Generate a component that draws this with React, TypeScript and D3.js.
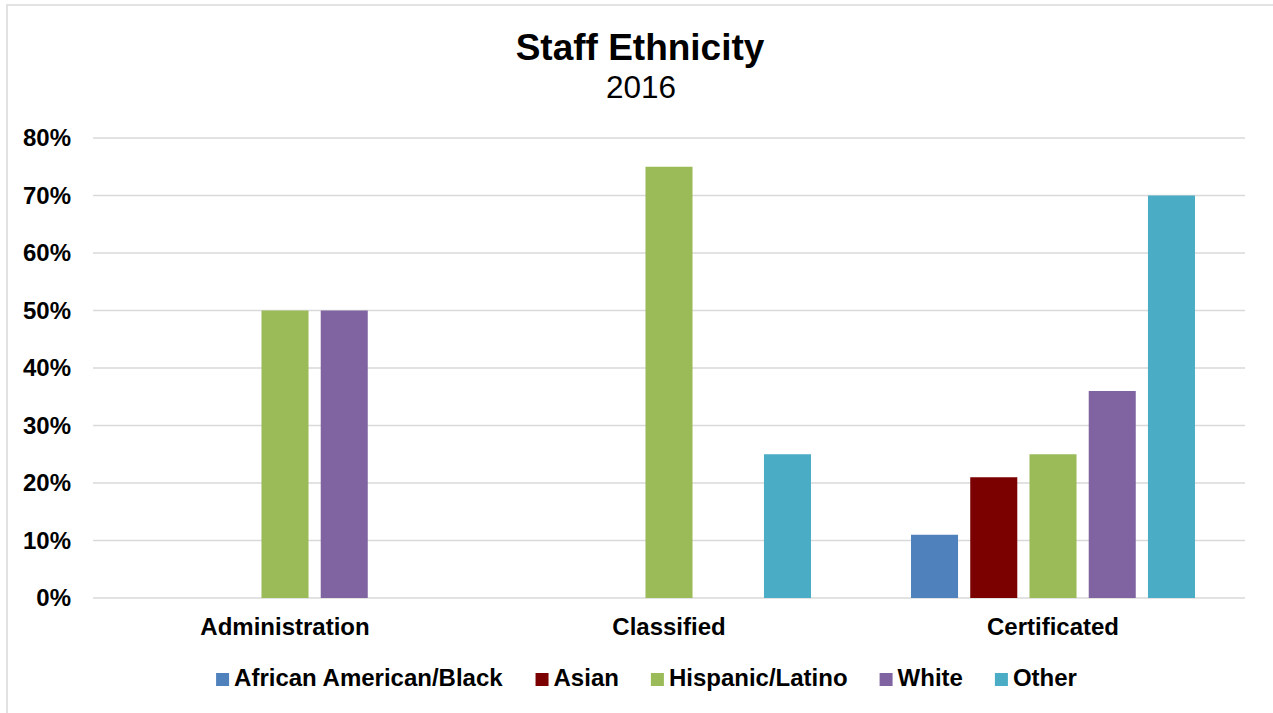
import React from "react";
import * as d3 from "d3";

const categories = ["Administration", "Classified", "Certificated"];
const seriesNames = ["African American/Black", "Asian", "Hispanic/Latino", "White", "Other"];
const seriesColors = ["#4F81BD", "#7B0000", "#9BBB59", "#8064A2", "#4BACC6"];
// values in percent, per series, per category
const africanAmerican = [0, 0, 11];
const asian = [0, 0, 21];
const hispanic = [50, 75, 25];
const white = [50, 0, 36];
const other = [0, 25, 70];
const yTicks = [0, 10, 20, 30, 40, 50, 60, 70, 80];
const titleText = "Staff Ethnicity";
const subtitleText = "2016";

const seriesValues = [africanAmerican, asian, hispanic, white, other];

const W = 1273;
const H = 713;
const FONT = "'Liberation Sans', Arial, Helvetica, sans-serif";

function measure(text: string, font: string): number {
  const c = document.createElement("canvas");
  const ctx = c.getContext("2d");
  if (!ctx) return text.length * 12;
  ctx.font = font;
  return ctx.measureText(text).width;
}

export default function App() {
  const left = 93;
  const right = 1245;
  const top = 138;
  const bottom = 598;

  const y = d3.scaleLinear().domain([0, 80]).range([bottom, top]);
  const x0 = d3.scaleBand<string>().domain(categories).range([left, right]).paddingInner(0).paddingOuter(0);
  const bw = x0.bandwidth();
  const x1 = d3
    .scaleBand<number>()
    .domain(seriesNames.map((_, i) => i))
    .range([50, bw - 50])
    .paddingInner(0.206)
    .paddingOuter(0);

  const lfs = 24;
  const legendFont = `bold ${lfs}px ${FONT}`;
  const sq = 13;
  const gapSqText = 5;
  const gapItems = 32;
  const widths = seriesNames.map((n) => measure(n, legendFont));
  const itemWidths = widths.map((w) => sq + gapSqText + w);
  const total = itemWidths.reduce((a, b) => a + b, 0) + gapItems * (seriesNames.length - 1);
  let lx = 646.5 - total / 2;
  const legendItems = seriesNames.map((n, i) => {
    const item = { name: n, color: seriesColors[i], x: lx };
    lx += itemWidths[i] + gapItems;
    return item;
  });

  return (
    <svg
      width={W}
      height={H}
      style={{ position: "absolute", left: 0, top: 0, display: "block", background: "#fff" }}
      fontFamily={FONT}
    >
      <rect x={0} y={0} width={W} height={H} fill="#fff" />
      <rect x={7} y={5} width={W + 20} height={H + 20} fill="#fff" stroke="#d9d9d9" strokeWidth={1.5} />
      <text x={640} y={60} textAnchor="middle" fontWeight="bold" fontSize={37} fill="#000">
        {titleText}
      </text>
      <text x={641} y={98} textAnchor="middle" fontSize={31.5} fill="#000">
        {subtitleText}
      </text>

      {yTicks.map((t) => (
        <g key={t}>
          <line x1={left} x2={right} y1={y(t)} y2={y(t)} stroke="#d9d9d9" strokeWidth={1.5} />
          <text x={71} y={y(t) + 8} textAnchor="end" fontWeight="bold" fontSize={lfs} fill="#000">
            {t}%
          </text>
        </g>
      ))}

      {categories.map((c, ci) => (
        <g key={c} transform={`translate(${x0(c)},0)`}>
          {seriesValues.map((vals, si) =>
            vals[ci] > 0 ? (
              <rect
                key={si}
                x={x1(si)}
                y={y(vals[ci])}
                width={x1.bandwidth()}
                height={y(0) - y(vals[ci])}
                fill={seriesColors[si]}
              />
            ) : null
          )}
          <text x={bw / 2} y={635} textAnchor="middle" fontWeight="bold" fontSize={lfs} fill="#000">
            {c}
          </text>
        </g>
      ))}

      {legendItems.map((it) => (
        <g key={it.name} transform={`translate(${it.x},0)`}>
          <rect x={0} y={673} width={sq} height={sq} fill={it.color} />
          <text x={sq + gapSqText} y={686} fontWeight="bold" fontSize={lfs} fill="#000">
            {it.name}
          </text>
        </g>
      ))}
    </svg>
  );
}
